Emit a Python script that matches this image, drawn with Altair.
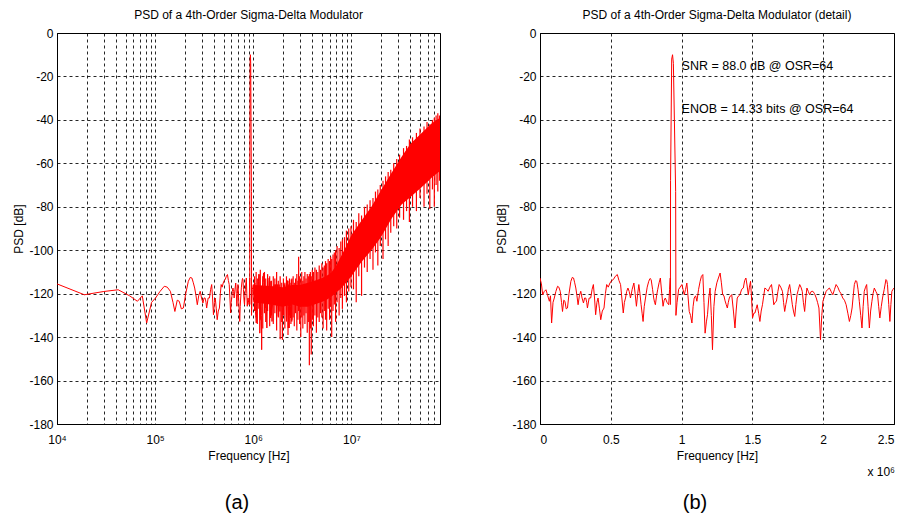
import altair as alt
import pandas as pd

FONT = "Liberation Sans, Arial, sans-serif"
CAP_FONT = "Liberation Sans, Arial, sans-serif"
RED = "#ff0000"

# ---- PSD trace, 0 .. 2.5 MHz (frequency in MHz, PSD in dB) ----
freq_mhz = [
    0.000, 0.010, 0.019, 0.030, 0.042, 0.055, 0.066, 0.074, 0.082, 0.092,
    0.101, 0.112, 0.124, 0.133, 0.143, 0.152, 0.159, 0.168, 0.176, 0.185,
    0.194, 0.205, 0.218, 0.228, 0.237, 0.245, 0.253, 0.261, 0.269, 0.278,
    0.288, 0.297, 0.307, 0.315, 0.323, 0.330, 0.335, 0.347, 0.358, 0.368,
    0.377, 0.385, 0.393, 0.402, 0.410, 0.420, 0.429, 0.440, 0.452, 0.462,
    0.471, 0.482, 0.494, 0.506, 0.518, 0.532, 0.546, 0.558, 0.569, 0.578,
    0.588, 0.596, 0.604, 0.612, 0.621, 0.630, 0.639, 0.651, 0.663, 0.672,
    0.681, 0.690, 0.698, 0.706, 0.714, 0.721, 0.728, 0.736, 0.745, 0.757,
    0.768, 0.777, 0.785, 0.795, 0.803, 0.809, 0.815, 0.823, 0.831, 0.841,
    0.850, 0.860, 0.869, 0.877, 0.885, 0.897, 0.909, 0.915, 0.920, 0.921,
    0.922, 0.930, 0.936, 0.942, 0.958, 0.960, 0.968, 0.979, 0.990, 1.002,
    1.010, 1.019, 1.028, 1.037, 1.045, 1.054, 1.063, 1.073, 1.081, 1.089,
    1.099, 1.108, 1.120, 1.131, 1.140, 1.150, 1.158, 1.166, 1.175, 1.183,
    1.192, 1.201, 1.210, 1.218, 1.228, 1.237, 1.249, 1.260, 1.272, 1.281,
    1.290, 1.299, 1.307, 1.315, 1.323, 1.330, 1.337, 1.345, 1.354, 1.366,
    1.377, 1.385, 1.393, 1.403, 1.412, 1.424, 1.436, 1.445, 1.454, 1.462,
    1.471, 1.479, 1.487, 1.494, 1.501, 1.510, 1.518, 1.526, 1.534, 1.544,
    1.553, 1.562, 1.571, 1.580, 1.588, 1.600, 1.611, 1.623, 1.635, 1.643,
    1.651, 1.660, 1.670, 1.680, 1.689, 1.700, 1.712, 1.720, 1.728, 1.736,
    1.745, 1.754, 1.763, 1.772, 1.782, 1.790, 1.799, 1.807, 1.815, 1.825,
    1.834, 1.843, 1.852, 1.860, 1.869, 1.877, 1.885, 1.895, 1.904, 1.915,
    1.927, 1.939, 1.951, 1.960, 1.970, 1.981, 1.990, 1.998, 2.010, 2.021,
    2.033, 2.044, 2.056, 2.068, 2.080, 2.091, 2.103, 2.115, 2.126, 2.138,
    2.150, 2.162, 2.174, 2.185, 2.195, 2.204, 2.212, 2.220, 2.229, 2.237,
    2.246, 2.255, 2.265, 2.274, 2.282, 2.290, 2.299, 2.307, 2.317, 2.326,
    2.335, 2.344, 2.352, 2.361, 2.372, 2.384, 2.392, 2.400, 2.410, 2.419,
    2.431, 2.443, 2.449, 2.454, 2.463, 2.471, 2.478, 2.485, 2.493, 2.500,
]
psd_db = [
    -112.8, -115.5, -120.5, -119.0, -118.2, -121.0, -123.5, -121.0, -133.5, -124.0,
    -122.0, -119.0, -116.6, -117.0, -118.9, -124.0, -128.2, -123.0, -123.5, -127.0,
    -126.6, -120.0, -114.3, -112.5, -112.8, -115.0, -117.4, -121.0, -125.1, -121.0,
    -118.9, -122.0, -124.3, -122.0, -122.0, -124.0, -126.6, -122.0, -122.0, -118.0,
    -115.8, -122.0, -129.7, -124.0, -122.0, -127.0, -132.0, -128.0, -126.6, -120.0,
    -115.8, -117.0, -115.1, -114.0, -113.5, -112.0, -111.2, -114.0, -115.8, -122.0,
    -128.9, -124.0, -122.0, -119.0, -117.4, -119.0, -122.0, -118.0, -115.1, -120.0,
    -125.8, -120.0, -115.8, -120.0, -125.1, -129.0, -132.8, -126.0, -122.0, -117.0,
    -114.3, -113.0, -113.5, -118.0, -122.0, -124.0, -125.1, -121.0, -118.2, -115.0,
    -112.8, -120.0, -125.8, -123.0, -122.0, -124.0, -125.1, -118.0, -112.8, -125.0,
    -68.0, -12.0, -10.0, -14.0, -73.0, -130.0, -124.0, -118.0, -117.0, -115.8,
    -118.0, -120.5, -118.0, -115.1, -121.0, -128.2, -130.0, -133.5, -126.0, -122.0,
    -121.0, -123.5, -118.0, -114.3, -112.0, -111.2, -124.0, -138.2, -133.0, -129.7,
    -122.0, -117.4, -130.0, -145.8, -126.0, -118.9, -115.0, -112.8, -110.5, -115.0,
    -120.5, -121.0, -123.3, -125.0, -126.6, -124.0, -122.0, -121.0, -120.5, -128.0,
    -135.8, -128.0, -122.0, -121.0, -120.5, -118.0, -117.4, -114.0, -112.8, -116.0,
    -120.5, -117.0, -114.3, -122.0, -131.2, -129.0, -128.9, -127.0, -125.1, -129.0,
    -132.8, -128.0, -125.1, -121.0, -117.4, -118.0, -118.9, -117.0, -115.8, -120.0,
    -125.1, -124.0, -123.5, -119.0, -115.8, -117.0, -118.9, -124.0, -128.2, -125.0,
    -122.0, -118.0, -115.8, -120.0, -125.1, -128.0, -130.5, -125.0, -120.5, -118.0,
    -115.8, -117.0, -118.9, -124.0, -128.2, -122.0, -117.4, -119.0, -120.5, -119.0,
    -118.9, -120.0, -122.0, -124.0, -126.6, -141.2, -130.0, -123.5, -121.0, -118.9,
    -118.0, -117.4, -119.0, -120.5, -118.0, -115.8, -117.0, -118.9, -120.0, -122.0,
    -123.0, -125.1, -129.0, -132.8, -130.0, -126.6, -121.0, -115.8, -114.0, -114.3,
    -118.0, -123.5, -130.0, -135.8, -126.0, -118.9, -117.0, -115.8, -126.0, -135.8,
    -128.0, -123.5, -120.0, -117.4, -119.0, -120.5, -126.0, -131.2, -126.0, -122.0,
    -118.0, -113.5, -114.0, -115.8, -125.0, -132.8, -125.0, -118.9, -118.0, -117.4,
]

# ---- dense noise-shaped region of the full spectrum: solid core (Hz / dB) ----
band_f_hz = [1.0e6, 1.5e6, 2.0e6, 2.5e6, 3.0e6, 3.6e6, 4.2e6, 4.9e6, 5.5e6, 6.2e6,
             7.0e6, 7.9e6, 9.0e6, 1.0e7, 1.26e7, 1.6e7, 2.0e7, 2.56e7, 3.25e7, 4.0e7,
             5.2e7, 6.6e7, 8.0e7]
band_upper_db = [-116.0, -116.5, -117.0, -116.0, -116.0, -115.0, -114.0, -113.0, -112.0, -110.5,
                 -107.0, -102.5, -97.5, -93.0, -86.5, -80.0, -72.5, -64.5, -57.0, -51.0,
                 -46.0, -41.5, -39.0]
band_lower_db = [-124.0, -125.0, -126.0, -125.0, -126.0, -126.0, -125.0, -124.0, -123.0, -121.5,
                 -119.5, -117.5, -114.5, -112.0, -105.5, -100.0, -94.0, -85.5, -79.0, -75.5,
                 -71.0, -66.5, -63.5]

# ---- individual lines of the dense region (Hz, top dB, bottom dB) ----
spike_f_hz = [1.03e6, 1.07e6, 1.1e6, 1.14e6, 1.18e6, 1.25e6, 1.3e6, 1.34e6, 1.4e6, 1.47e6,
              1.53e6, 1.6e6, 1.66e6, 1.73e6, 1.8e6, 1.88e6, 1.95e6, 2.03e6, 2.1e6, 2.18e6,
              2.26e6, 2.34e6, 2.42e6, 2.48e6,
              2.55e6, 2.62e6, 2.7e6, 2.78e6, 2.85e6, 2.9e6, 2.97e6, 3.05e6, 3.12e6, 3.2e6,
              3.28e6, 3.36e6, 3.45e6, 3.55e6, 3.64e6, 3.73e6, 3.82e6, 3.9e6, 4.0e6, 4.1e6,
              4.25e6, 4.4e6, 4.55e6, 4.7e6, 4.85e6, 5.0e6, 5.15e6, 5.3e6, 5.45e6, 5.6e6,
              5.8e6, 6.0e6, 6.15e6, 6.3e6, 6.5e6, 6.7e6, 6.9e6, 7.15e6, 7.5e6, 7.8e6,
              8.1e6, 8.5e6, 8.9e6, 9.4e6, 9.9e6, 1.05e7, 1.12e7, 1.19e7, 1.27e7, 1.36e7,
              1.45e7, 1.55e7, 1.66e7, 1.76e7, 1.86e7, 1.97e7, 2.1e7, 2.23e7, 2.37e7, 2.52e7,
              2.7e7, 2.9e7, 3.1e7, 3.4e7, 3.65e7, 3.9e7, 4.2e7, 4.6e7, 5.0e7, 5.5e7,
              5.9e7, 6.3e7, 6.7e7, 7.0e7, 7.3e7, 7.6e7, 7.9e7]
spike_top_db = [-112.0, -110.0, -113.0, -111.0, -109.0, -112.0, -110.0, -113.0, -111.0, -112.0,
                -114.0, -112.0, -113.0, -110.0, -114.0, -112.0, -115.0, -113.0, -115.0, -112.0,
                -114.0, -113.0, -115.0, -113.0,
                -112.0, -115.0, -113.0, -111.0, -114.0, -103.0, -112.0, -113.0, -110.0, -114.0,
                -112.0, -110.0, -113.0, -111.0, -112.0, -111.0, -110.0, -112.0, -109.0, -110.0,
                -108.0, -109.0, -110.0, -107.0, -109.0, -106.0, -108.0, -107.0, -105.0, -106.0,
                -104.0, -105.0, -103.0, -104.0, -102.0, -101.0, -100.0, -98.0, -99.0, -96.0,
                -95.0, -94.0, -91.0, -90.0, -89.0, -86.0, -87.0, -83.0, -84.0, -80.0,
                -79.0, -77.0, -76.0, -73.0, -72.0, -70.0, -68.0, -66.0, -64.0, -63.0,
                -60.0, -58.0, -56.0, -53.0, -52.0, -49.0, -48.0, -46.0, -44.0, -43.0,
                -41.0, -42.0, -40.0, -39.0, -38.0, -37.0, -38.0]
spike_bot_db = [-128.0, -131.0, -134.0, -127.0, -132.0, -136.0, -129.0, -133.0, -128.0, -135.0,
                -130.0, -134.0, -129.0, -137.0, -131.0, -141.0, -133.0, -130.0, -136.0, -131.0,
                -139.0, -130.0, -134.0, -132.0,
                -131.0, -135.0, -129.0, -137.0, -132.0, -128.0, -134.0, -140.0, -131.0, -136.0,
                -130.0, -134.0, -129.0, -138.0, -133.0, -153.0, -136.0, -148.0, -132.0, -135.0,
                -130.0, -138.0, -131.0, -133.0, -129.0, -131.0, -136.0, -128.0, -132.0, -137.0,
                -127.0, -132.0, -126.0, -140.0, -128.0, -125.0, -133.0, -124.0, -130.0, -122.0,
                -127.0, -121.0, -124.0, -119.0, -117.0, -118.0, -124.0, -112.0, -121.0, -108.0,
                -110.0, -104.0, -109.0, -101.0, -107.0, -98.0, -104.0, -95.0, -98.0, -92.0,
                -89.0, -90.0, -85.0, -86.0, -82.0, -87.0, -80.0, -82.0, -76.0, -80.0,
                -74.0, -81.0, -72.0, -80.0, -70.0, -73.0, -68.0]

# ---- axes ----
y_ticks = list(range(-180, 1, 20))
left_x_ticks = [k * 10 ** e for e in range(4, 8) for k in range(1, 10) if k * 10 ** e <= 8e7]
right_x_ticks_hz = [0, 500000, 1000000, 1500000, 2000000, 2500000]

# ---- annotations ----
ann_x_hz = [1.0e6, 1.0e6]
ann_y_db = [-15.0, -35.0]
ann_text = ["SNR = 88.0 dB @ OSR=64", "ENOB = 14.33 bits @ OSR=64"]

main_df = pd.DataFrame({"f": [m * 1e6 for m in freq_mhz], "psd": psd_db})
left_df = main_df[main_df["f"] >= 1e4]
band_df = pd.DataFrame({"f": band_f_hz, "psd": band_upper_db, "low": band_lower_db})
spike_df = pd.DataFrame({"f": spike_f_hz, "psd": spike_top_db, "low": spike_bot_db})
ann_df = pd.DataFrame({"f": ann_x_hz, "psd": ann_y_db, "t": ann_text})

W_L, W_R, H = 383, 354, 391

yscale = alt.Scale(domain=[-180, 0], nice=False, zero=False)
yaxis = alt.Axis(values=y_ticks, title="PSD [dB]",
                 labelExpr="datum.value == 0 ? '0' : '-' + abs(datum.value)")

xl_scale = alt.Scale(type="log", domain=[1e4, 8e7], nice=False)
xl_axis = alt.Axis(
    values=left_x_ticks, title="Frequency [Hz]", labelFlush=False,
    labelExpr="datum.value == 10000 ? '10\u2074' : datum.value == 100000 ? '10\u2075' : "
              "datum.value == 1000000 ? '10\u2076' : datum.value == 10000000 ? '10\u2077' : ''",
)
xr_scale = alt.Scale(domain=[0, 2.5e6], nice=False, zero=False)
xr_axis = alt.Axis(values=right_x_ticks_hz, title="Frequency [Hz]",
                   labelExpr="format(datum.value / 1000000, '~g')")

XL = alt.X("f:Q", scale=xl_scale, axis=xl_axis)
YL = alt.Y("psd:Q", scale=yscale, axis=yaxis)
XR = alt.X("f:Q", scale=xr_scale, axis=xr_axis)

band = alt.Chart(band_df).mark_area(color=RED, opacity=1, clip=True).encode(x=XL, y=YL, y2="low:Q")
left_line = alt.Chart(left_df).mark_line(color=RED, strokeWidth=1, clip=True).encode(x=XL, y=YL)
spikes = alt.Chart(spike_df).mark_rule(color=RED, strokeWidth=1.2, clip=True).encode(x=XL, y=YL, y2="low:Q")
cap_a = alt.Chart(pd.DataFrame({"t": ["(a)"]})).mark_text(
    font=CAP_FONT, fontSize=20, color="black", baseline="middle").encode(
    x=alt.value(180), y=alt.value(H + 79), text="t:N")

left = alt.layer(band, left_line, spikes, cap_a).properties(
    width=W_L, height=H,
    title=alt.TitleParams("PSD of a 4th-Order Sigma-Delta Modulator", font=FONT,
                          fontSize=12, fontWeight="normal", offset=5, color="black"),
)

right_line = alt.Chart(main_df).mark_line(color=RED, strokeWidth=1, clip=True).encode(x=XR, y=YL)
ann = alt.Chart(ann_df).mark_text(font=FONT, fontSize=12.5, align="left", baseline="middle",
                                  color="black").encode(x=XR, y=YL, text="t:N")
x10 = alt.Chart(pd.DataFrame({"t": ["x 10\u2076"]})).mark_text(
    font=FONT, fontSize=12, align="right", baseline="middle", color="black").encode(
    x=alt.value(W_R + 1), y=alt.value(H + 48), text="t:N")
cap_b = alt.Chart(pd.DataFrame({"t": ["(b)"]})).mark_text(
    font=CAP_FONT, fontSize=20, color="black", baseline="middle").encode(
    x=alt.value(155), y=alt.value(H + 79), text="t:N")

right = alt.layer(right_line, ann, x10, cap_b).properties(
    width=W_R, height=H,
    title=alt.TitleParams("PSD of a 4th-Order Sigma-Delta Modulator (detail)", font=FONT,
                          fontSize=12, fontWeight="normal", offset=5, color="black"),
)

chart = alt.hconcat(left, right, spacing=54).properties(
    padding={"left": 4, "top": 0, "right": 0, "bottom": 0},
    background="white",
).configure_view(
    stroke="black", strokeWidth=1,
).configure_axis(
    labelFont=FONT, titleFont=FONT, labelFontSize=12, titleFontSize=12,
    titleFontWeight="normal", labelColor="black", titleColor="black",
    domainColor="black", ticks=False, labelPadding=4, titlePadding=3,
    grid=True, gridColor="black", gridDash=[3, 3], gridWidth=1, gridOpacity=0.85,
).configure_axisX(
    labelPadding=10, titlePadding=5,
)

chart.save("out.html", embed_options={"renderer": "svg", "actions": False})
